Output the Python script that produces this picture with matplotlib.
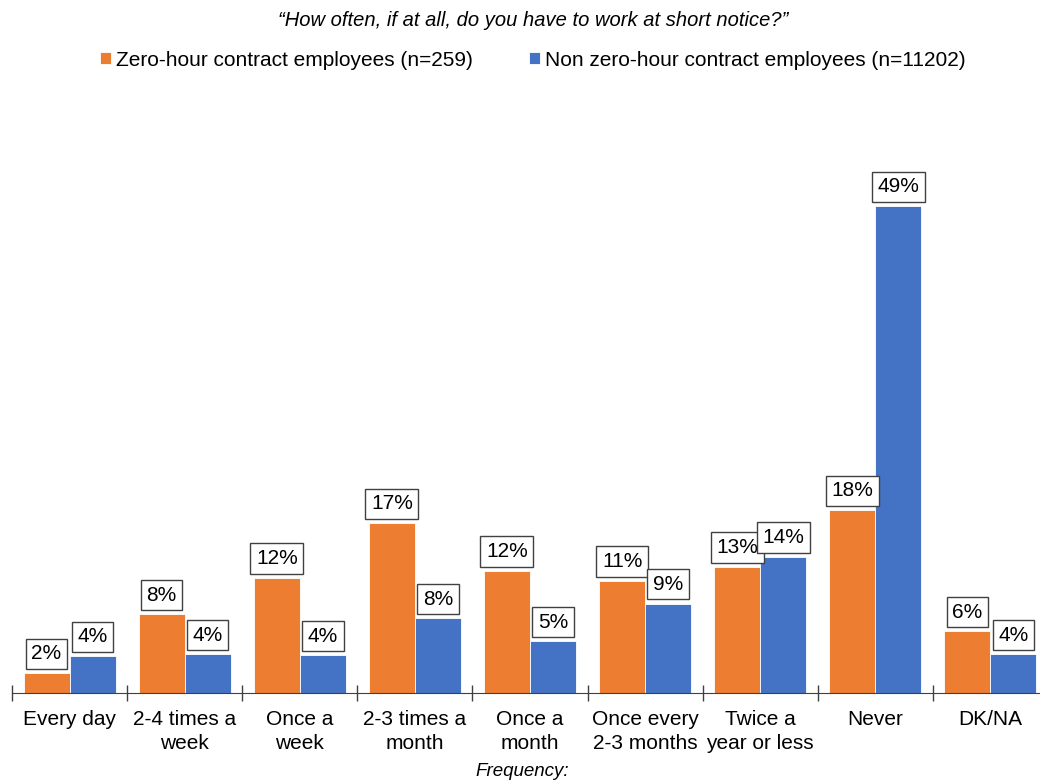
import matplotlib.pyplot as plt
import numpy as np

plt.rcParams['font.family'] = ['Liberation Sans', 'DejaVu Sans']

# Datos
categorias = ['Every day', '2-4 times a\nweek', 'Once a\nweek', '2-3 times a\nmonth',
              'Once a\nmonth', 'Once every\n2-3 months', 'Twice a\nyear or less',
              'Never', 'DK/NA']
zero_hour = [2.0, 7.9, 11.6, 17.1, 12.3, 11.3, 12.7, 18.4, 6.2]
non_zero_hour = [3.7, 3.9, 3.8, 7.5, 5.2, 9.0, 13.7, 49.0, 3.9]
etiquetas_zero = ['2%', '8%', '12%', '17%', '12%', '11%', '13%', '18%', '6%']
etiquetas_non = ['4%', '4%', '4%', '8%', '5%', '9%', '14%', '49%', '4%']

naranja = '#ED7D31'
azul = '#4472C4'

fig = plt.figure(figsize=(10.4, 7.84), dpi=100)
ax = fig.add_axes([12 / 1040, 91 / 784, 1036 / 1040, 546.7 / 784])

x = np.arange(len(categorias))
w = 0.4
b1 = ax.bar(x - w / 2, zero_hour, w, color=naranja, edgecolor='white', linewidth=0.6,
            label='Zero-hour contract employees (n=259)')
b2 = ax.bar(x + w / 2, non_zero_hour, w, color=azul, edgecolor='white', linewidth=0.6,
            label='Non zero-hour contract employees (n=11202)')

caja = dict(boxstyle='square,pad=0.27', facecolor='white', edgecolor='#404040', linewidth=1)
for barras, textos in [(b1, etiquetas_zero), (b2, etiquetas_non)]:
    for rect, t in zip(barras, textos):
        ax.annotate(t, (rect.get_x() + rect.get_width() / 2, rect.get_height()),
                    xytext=(0, 7), textcoords='offset points', ha='center', va='bottom',
                    fontsize=15, color='black', bbox=caja)

ax.set_xlim(-0.5, len(categorias) - 0.5)
ax.set_ylim(0, 55)
ax.set_yticks([])
for lado in ['left', 'right', 'top']:
    ax.spines[lado].set_visible(False)
ax.spines['bottom'].set_color('#404040')

ax.set_xticks(x)
ax.set_xticklabels(categorias, fontsize=15, linespacing=1.35)
ax.tick_params(axis='x', which='major', length=0, pad=12)
ax.set_xticks(np.arange(-0.5, len(categorias), 1), minor=True)
ax.tick_params(axis='x', which='minor', direction='inout', length=11, width=1, color='#404040')

fig.text(533 / 1040, 1 - 20 / 784, '\u201cHow often, if at all, do you have to work at short notice?\u201d',
         ha='center', va='center', fontsize=14.5, style='italic')
fig.text(522 / 1040, 1 - 771 / 784, 'Frequency:', ha='center', va='center', fontsize=13.5, style='italic')

fig.legend(handles=[b1, b2], loc='center', bbox_to_anchor=(533 / 1040, 1 - 60 / 784), ncol=2,
           frameon=False, fontsize=15, handlelength=0.5, handleheight=0.5,
           handletextpad=0.25, columnspacing=2.7)

plt.savefig('out.png', dpi=100)
plt.close()
